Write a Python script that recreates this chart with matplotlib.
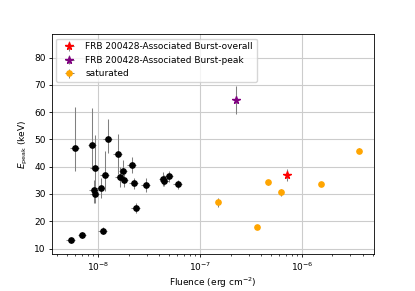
import matplotlib
matplotlib.use("Agg")
import matplotlib.pyplot as plt
import numpy as np

# Normal bursts (black)
bx = [5.4e-9, 7.0e-9, 5.94e-9, 8.79e-9, 9.28e-9, 9.13e-9, 9.28e-9, 1.07e-8, 1.12e-8,
      1.17e-8, 1.25e-8, 1.57e-8, 1.63e-8, 1.77e-8, 1.80e-8, 2.16e-8, 2.24e-8, 2.36e-8,
      2.94e-8, 4.39e-8, 4.49e-8, 4.99e-8, 6.12e-8]
by = [13.0, 15.0, 46.7, 48.1, 39.5, 31.3, 30.0, 32.2, 16.6,
      37.1, 50.3, 44.7, 36.1, 38.3, 35.0, 40.7, 34.0, 24.9,
      33.4, 35.5, 34.9, 36.5, 33.5]
by_lo = [1.0, 1.2, 8.4, 9.0, 10.4, 4.5, 3.2, 3.8, 1.2,
         6.0, 5.3, 7.3, 3.7, 3.0, 2.5, 3.0, 2.2, 1.8,
         2.6, 2.5, 2.0, 2.0, 1.5]
by_hi = [1.0, 1.2, 15.3, 13.4, 12.2, 4.0, 4.0, 3.8, 1.2,
         8.5, 7.0, 7.3, 3.7, 4.3, 2.5, 3.0, 2.0, 1.8,
         2.6, 2.5, 2.0, 2.0, 1.5]
bx_rel = 0.10

# Saturated bursts (orange)
sx = [1.52e-7, 3.62e-7, 4.61e-7, 6.18e-7, 1.53e-6, 3.62e-6]
sy = [26.9, 17.9, 34.3, 30.6, 33.7, 45.9]
sy_err = [1.7, 0.8, 1.0, 1.3, 0.8, 0.8]

# FRB 200428-associated burst
ox, oy, oy_err = [7.08e-7], [37.1], [2.2]
px, py, py_err = [2.24e-7], [64.5], [5.2]

fig = plt.figure(figsize=(4.15, 2.91), dpi=100)
ax = fig.add_axes([0.125, 0.127, 0.775, 0.756])
fs = 6.5
lw = 0.75

ax.errorbar(bx, by, xerr=np.array(bx) * bx_rel, yerr=[by_lo, by_hi], fmt='o',
            color='black', ms=3.8, ecolor='gray', elinewidth=lw, zorder=3)
ax.errorbar(ox, oy, xerr=np.array(ox) * 0.03, yerr=oy_err, fmt='*', color='red', ms=5.5,
            ecolor='gray', elinewidth=lw, zorder=4,
            label='FRB 200428-Associated Burst-overall')
ax.errorbar(px, py, xerr=np.array(px) * 0.03, yerr=py_err, fmt='*', color='purple', ms=5.5,
            ecolor='gray', elinewidth=lw, zorder=4,
            label='FRB 200428-Associated Burst-peak')
ax.errorbar(sx, sy, xerr=np.array(sx) * 0.03, yerr=sy_err, fmt='o', color='orange', ms=3.8,
            ecolor='gray', elinewidth=lw, zorder=3, label='saturated')

ax.set_xscale('log')
ax.set_xlim(3.53e-9, 5.05e-6)
ax.set_ylim(8.0, 88.6)
ax.grid(True, which='major', color='#cccccc', linewidth=0.8)
ax.set_axisbelow(True)
ax.tick_params(labelsize=fs, width=0.6, length=2.5, pad=2)
ax.tick_params(which='minor', width=0.5, length=1.6)
for s in ax.spines.values():
    s.set_linewidth(0.6)
ax.set_xlabel('Fluence (erg cm$^{-2}$)', fontsize=fs, labelpad=2)
ax.set_ylabel(r'$E_{\rm peak}$ (keV)', fontsize=fs, labelpad=3)
ax.legend(loc='upper left', fontsize=fs, framealpha=0.8)

fig.savefig('out.png', dpi=100)
